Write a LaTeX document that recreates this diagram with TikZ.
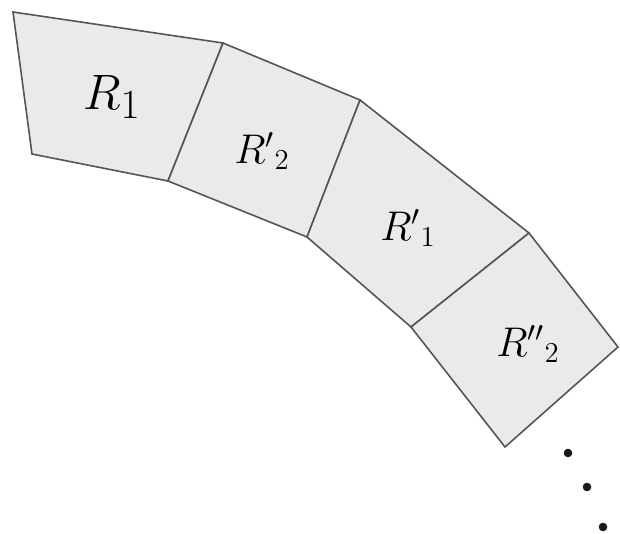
\documentclass[tikz,border=0pt]{standalone}
\usepackage{tikz}
\usetikzlibrary{positioning, calc}
\definecolor{cellgrau}{HTML}{E9EBEB}
\definecolor{randgrau}{HTML}{555555}
\begin{document}
\begin{tikzpicture}[
    x=0.5pt, y=-0.5pt,
    cell/.style={draw=randgrau, fill=cellgrau, line width=0.8pt, line join=miter},
    lab/.style={font=\fontsize{22}{26}\selectfont},
    dot/.style={circle, fill=black!90, inner sep=0pt, minimum size=4.3pt}
  ]
  \useasboundingbox (0,0) rectangle (620,534);
  % outer and inner edge of the strip
  \coordinate (a0) at (13,12);
  \coordinate (a1) at (223,43);
  \coordinate (a2) at (360,100);
  \coordinate (a3) at (529,233);
  \coordinate (a4) at (618,347);
  \coordinate (b0) at (32,154);
  \coordinate (b1) at (168,181);
  \coordinate (b2) at (307,237);
  \coordinate (b3) at (411,327);
  \coordinate (b4) at (505,447);

  \draw[cell] (a0) -- (a1) -- (b1) -- (b0) -- cycle;
  \draw[cell] (a1) -- (a2) -- (b2) -- (b1) -- cycle;
  \draw[cell] (a2) -- (a3) -- (b3) -- (b2) -- cycle;
  \draw[cell] (a3) -- (a4) -- (b4) -- (b3) -- cycle;

  \node[lab, font=\fontsize{29}{32}\selectfont] (r1)  at (112,97)  {$R_1$};
  \node[lab] (r2a) at (262,151) {${R'}_2$};
  \node[lab] (r1a) at (408,228) {${R'}_1$};
  \node[lab] (r2b) at (528,344) {${R''}_2$};

  % continuation
  \node[dot] (d1) at (568,453) {};
  \node[dot] (d2) at (587,487) {};
  \node[dot] (d3) at (603,527) {};
\end{tikzpicture}
\end{document}
